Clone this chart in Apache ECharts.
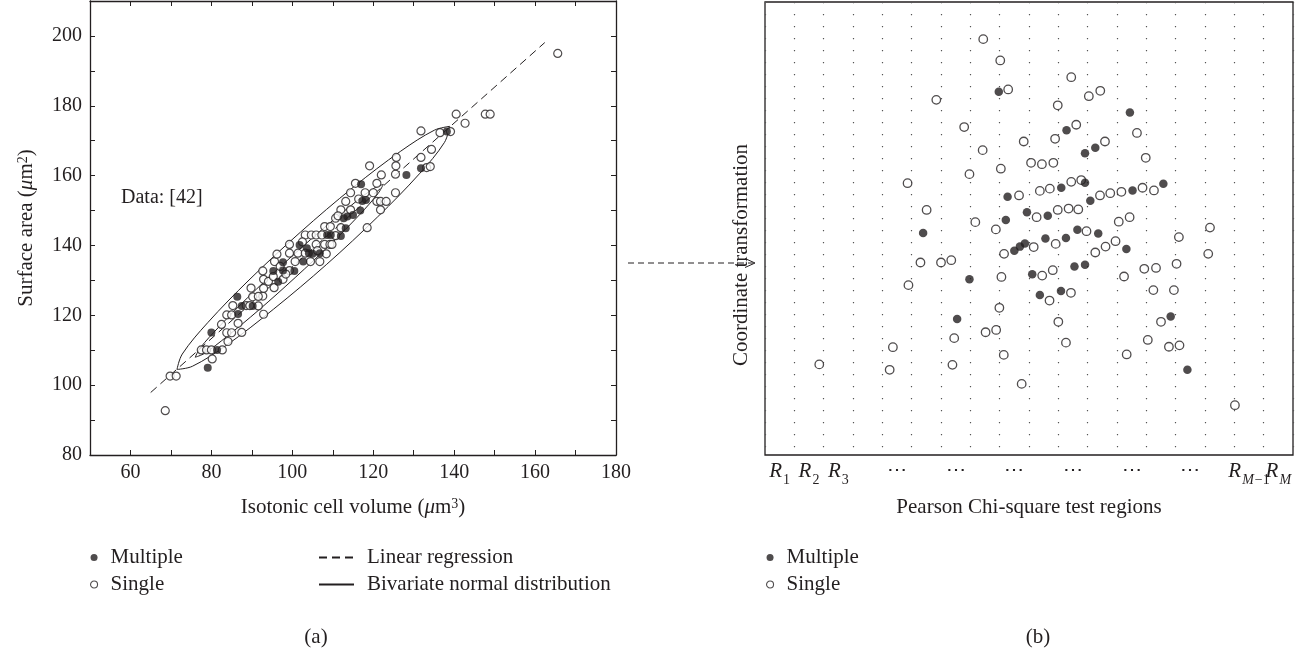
<!DOCTYPE html>
<html>
<head>
<meta charset="utf-8">
<title>Surface area vs isotonic cell volume</title>
<script src="https://cdn.jsdelivr.net/npm/echarts@6/dist/echarts.min.js"></script>
<style>
  html, body { margin: 0; padding: 0; background: #fff; }
  #chart { width: 1314px; height: 653px; }
</style>
</head>
<body>
<div id="chart"></div>
<script>
// 图表初始化
var myChart = echarts.init(document.getElementById('chart'));

var FONT = '"Liberation Serif", "DejaVu Serif", serif';
var INK = '#231f20';

// (a) 左图：刻度
var xTickLabels = [60, 80, 100, 120, 140, 160, 180];
var yTickLabels = [80, 100, 120, 140, 160, 180, 200];

// 线性回归的两个端点
var regressionX = [65, 162.4];
var regressionY = [97.9, 198.1];

// 二元正态分布的轮廓
var outerEllipse = [[138.9, 174.1], [137.6, 169.5], [131.4, 160.5], [121.1, 148.2], [108.5, 134.6],
    [95.3, 121.7], [83.7, 111.4], [75.3, 105.4], [71.5, 104.5], [72.8, 108.9], [79.1, 117.9],
    [89.3, 130.1], [102.0, 143.8], [115.1, 156.7], [126.8, 167.0], [135.1, 173.0]];
var innerEllipse = [[122.5, 157.5], [121.2, 154.9], [116.7, 148.9], [109.5, 140.4], [100.7, 130.8],
    [91.7, 121.5], [83.8, 113.9], [78.3, 109.1], [76.0, 108.0], [77.2, 110.6], [81.8, 116.6],
    [89.0, 125.1], [97.8, 134.7], [106.8, 144.0], [114.7, 151.6], [120.2, 156.4]];

// 单个细胞 (空心)
var singleA = [[68.6, 92.7], [69.8, 102.6], [71.3, 102.6],
    [77.5, 110.1], [78.8, 110.1], [80, 110.1], [80.2, 107.5], [82.7, 110.1],
    [82.5, 117.4], [83.8, 120.1], [85, 120.1], [83.8, 115], [85, 115], [84.1, 112.5], [86.6, 117.7], [87.5, 115.1],
    [85.3, 122.8], [88.6, 122.8], [89.5, 122.8], [90.2, 125.3], [91.6, 122.7], [92.9, 120.3], [92.7, 125.5],
    [92.9, 127.7], [92.9, 130.3], [92.7, 132.7], [91.6, 125.4], [94.1, 129.7], [95.3, 131.1],
    [95.5, 127.9], [95.6, 135.4], [97.7, 130.3], [99.3, 140.3], [99.3, 137.8], [99.3, 132.8], [100.7, 135.4], [101.4, 137.8],
    [103.2, 143], [103.2, 137.8], [104.7, 143], [105.9, 143], [104.5, 135.4], [105.9, 140.3], [106.8, 135.4], [107.3, 143],
    [108, 140.3], [109.3, 140.3], [108, 145.4], [108.4, 137.6], [109.4, 145.4], [109.8, 140.3], [110.7, 147.8], [110.7, 142.8],
    [112, 150.2], [112, 145.1], [114.4, 155.1], [114.4, 150.2], [115.6, 157.8], [118, 155.1], [118.5, 145.1], [119.1, 162.8],
    [120, 155.1], [120.9, 152.6], [120.9, 157.8], [121.8, 150.2], [121.8, 152.6], [122, 160.2], [123.2, 152.6],
    [125.5, 155.1], [125.5, 160.4], [125.6, 162.8], [125.7, 165.2],
    [131.8, 172.8], [131.8, 165.2], [133.2, 162.3], [134.1, 162.6], [134.4, 167.5], [136.5, 172.3], [139.1, 172.6],
    [140.5, 177.6], [142.7, 175], [147.7, 177.6], [148.9, 177.6], [165.6, 195],
    [97, 134], [102.5, 141], [106.2, 138.5], [111.3, 148.5], [113.2, 152.6], [116.4, 153.3], [96.2, 137.5],
    [89.8, 127.8], [98.4, 131.8]];

// 多个细胞 (实心)
var multipleA = [[79.1, 105], [80, 115.1], [81.4, 110.1], [86.4, 125.3], [86.6, 120.4], [87.5, 122.7], [90.2, 122.7],
    [95.3, 132.7], [96.5, 129.6], [97.7, 135.2], [97.7, 132.8], [100.5, 132.7], [101.8, 140.1], [102.7, 135.4],
    [103.6, 139.2], [104.1, 137.8], [105, 137.6], [106.8, 137.8], [108.6, 143], [109.5, 143], [112, 142.7],
    [112.7, 147.8], [113.6, 148.3], [113.2, 144.9], [115, 148.7], [116.8, 150], [117, 157.5], [117.3, 152.7],
    [118.2, 153], [128.2, 160.2], [131.8, 162.1], [138.2, 172.6]];

// (b) 右图：Pearson 卡方检验区域
var regions = ['R_1', 'R_2', 'R_3', '', '⋯', '', '⋯', '', '⋯', '', '⋯', '', '⋯', '', '⋯', '', 'R_M−1', 'R_M'];

var singleB = [[7.44, 91.8], [8.02, 87.1], [8.29, 80.7], [5.84, 78.4], [6.79, 72.4], [8.82, 69.2], [7.42, 67.3],
    [9.07, 64.5], [8.04, 63.2], [6.97, 62.0], [4.86, 60.0], [8.66, 57.3], [5.51, 54.1], [7.17, 51.4], [7.87, 49.8],
    [10.44, 83.4], [9.98, 77.2], [11.04, 79.2], [11.43, 80.4], [10.61, 72.9], [9.89, 69.8], [11.59, 69.2],
    [12.68, 71.1], [12.98, 65.6], [9.44, 64.2], [9.83, 64.5], [10.44, 60.3], [10.78, 60.7], [9.37, 58.3],
    [9.71, 58.8], [11.42, 57.3], [11.77, 57.8], [12.15, 58.1], [12.87, 59.0], [13.26, 58.4], [9.26, 52.5],
    [9.98, 54.1], [10.35, 54.4], [10.68, 54.2], [12.06, 51.5], [12.43, 52.5], [10.96, 49.4], [14.11, 48.1],
    [15.17, 50.2], [9.91, 46.6], [11.61, 46.0], [11.95, 47.2], [9.16, 45.9], [8.15, 44.4], [11.26, 44.7],
    [15.11, 44.4], [8.06, 39.3], [9.45, 39.6], [9.81, 40.8], [12.24, 39.4], [12.93, 41.1], [13.33, 41.3],
    [14.03, 42.2], [9.70, 34.1], [10.43, 35.8], [13.24, 36.4], [13.94, 36.4], [7.99, 32.5], [10.0, 29.4],
    [13.50, 29.4], [13.05, 25.4], [10.26, 24.8], [8.14, 22.1], [12.33, 22.2], [13.77, 23.9], [14.13, 24.2],
    [8.75, 15.7], [16.02, 11.0], [5.30, 42.5], [6.0, 42.5], [6.35, 43.0], [4.89, 37.5], [7.52, 27.1],
    [7.88, 27.6], [6.45, 25.8], [4.36, 23.8], [1.85, 20.0], [4.25, 18.8], [6.39, 19.9]];

var multipleB = [[7.97, 80.2], [8.27, 57.0], [8.93, 53.6], [8.21, 51.9], [5.39, 49.0], [12.44, 75.6], [10.28, 71.7],
    [10.91, 66.6], [11.26, 67.8], [10.91, 60.1], [10.10, 59.0], [12.53, 58.4], [13.58, 59.9], [9.64, 52.8],
    [11.09, 56.1], [10.65, 49.7], [11.36, 48.9], [9.56, 47.8], [10.26, 47.9], [8.86, 46.7], [8.69, 46.0],
    [8.50, 45.1], [12.32, 45.5], [9.11, 39.9], [10.55, 41.6], [10.91, 42.0], [9.37, 35.3], [10.09, 36.2],
    [13.83, 30.6], [14.40, 18.8], [6.97, 38.8], [6.55, 30.0]];

var textStyle = { fontSize: 21, fontFamily: FONT, color: INK };

function boxAxis(min, max, position, showLabel, labels) {
    return {
        type: 'value',
        min: min,
        max: max,
        interval: 10,
        position: position,
        axisLine: { onZero: false, lineStyle: { color: INK, width: 1.3 } },
        axisTick: { inside: true, length: 5, lineStyle: { color: INK, width: 1 } },
        axisLabel: {
            show: showLabel,
            margin: 8,
            fontSize: 20,
            fontFamily: FONT,
            color: INK,
            formatter: function (v) {
                return labels.indexOf(v) >= 0 ? String(v) : '';
            }
        },
        splitLine: { show: false }
    };
}

var nameRich = {
    i: { fontFamily: FONT, fontSize: 21, fontStyle: 'italic', color: INK, lineHeight: 24, verticalAlign: 'top' },
    n: { fontFamily: FONT, fontSize: 21, color: INK, lineHeight: 24, verticalAlign: 'top' },
    sup: { fontFamily: FONT, fontSize: 14, color: INK, lineHeight: 14, verticalAlign: 'top' }
};

var xBottom = boxAxis(50, 180, 'bottom', true, xTickLabels);
xBottom.gridIndex = 0;
xBottom.name = '{n|Isotonic cell volume (}{i|μ}{n|m}{sup|3}{n|)}';
xBottom.nameLocation = 'middle';
xBottom.nameGap = 42;
xBottom.nameTextStyle = { rich: nameRich };

var xTop = boxAxis(50, 180, 'top', false, xTickLabels);
xTop.gridIndex = 0;

var yLeft = boxAxis(80, 210, 'left', true, yTickLabels);
yLeft.gridIndex = 0;
yLeft.name = '{n|Surface area (}{i|μ}{n|m}{sup|2}{n|)}';
yLeft.nameLocation = 'middle';
yLeft.nameGap = 50;
yLeft.nameRotate = 90;
yLeft.nameTextStyle = { rich: nameRich };

var yRight = boxAxis(80, 210, 'right', false, yTickLabels);
yRight.gridIndex = 0;

var dotLegendText = { fontSize: 21, fontFamily: FONT, color: INK, lineHeight: 21, padding: [0, 0, 0, 8] };

var option = {
    backgroundColor: '#fff',
    animation: false,
    grid: [
        { left: 90, top: 1, width: 526, height: 454 },
        { left: 765, top: 2, width: 528, height: 453, show: true, borderColor: INK, borderWidth: 1.3 }
    ],
    xAxis: [
        xBottom,
        xTop,
        {
            gridIndex: 1,
            type: 'category',
            data: regions,
            boundaryGap: true,
            axisLine: { show: false },
            axisTick: { show: false },
            axisLabel: {
                interval: 0,
                margin: 6,
                color: INK,
                formatter: function (v) {
                    if (v === '⋯') return '{d|⋯}';
                    if (v.charAt(0) === 'R') {
                        var sub = v.slice(2);
                        if (sub.charAt(0) === 'M') {
                            return '{r|R}{si|M}' + (sub.length > 1 ? '{s|' + sub.slice(1) + '}' : '');
                        }
                        return '{r|R}{s|' + sub + '}';
                    }
                    return '';
                },
                rich: {
                    r: { fontFamily: FONT, fontStyle: 'italic', fontSize: 21, lineHeight: 26, verticalAlign: 'top', color: INK },
                    s: { fontFamily: FONT, fontSize: 14, lineHeight: 14, padding: [12, 0, 0, 1], verticalAlign: 'top', color: INK },
                    si: { fontFamily: FONT, fontStyle: 'italic', fontSize: 14, lineHeight: 14, padding: [12, 0, 0, 1], verticalAlign: 'top', color: INK },
                    d: { fontFamily: FONT, fontSize: 20, lineHeight: 26, verticalAlign: 'top', color: INK }
                }
            },
            splitLine: {
                show: true,
                interval: 0,
                lineStyle: { color: '#555', width: 1.2, type: [1.2, 10.8] }
            },
            name: 'Pearson Chi-square test regions',
            nameLocation: 'middle',
            nameGap: 42,
            nameTextStyle: textStyle
        },
        { gridIndex: 1, type: 'value', min: 0, max: 18, show: false }
    ],
    yAxis: [
        yLeft,
        yRight,
        { gridIndex: 1, type: 'value', min: 0, max: 100, show: false }
    ],
    legend: [{
        data: ['Multiple', 'Single'],
        orient: 'vertical',
        left: 90,
        top: 547,
        padding: 0,
        itemWidth: 7,
        itemHeight: 7,
        itemGap: 6,
        icon: 'circle',
        selectedMode: false,
        itemStyle: { borderWidth: 1.1 },
        textStyle: dotLegendText
    }, {
        data: ['Linear regression', 'Bivariate normal distribution'],
        orient: 'vertical',
        left: 318,
        top: 547,
        padding: 0,
        itemWidth: 35,
        itemHeight: 10,
        itemGap: 6,
        selectedMode: false,
        // 只保留线条，隐藏图例中的圆点
        itemStyle: { color: 'rgba(0,0,0,0)', borderWidth: 0, borderColor: 'rgba(0,0,0,0)' },
        textStyle: dotLegendText
    }, {
        data: ['Multiple', 'Single'],
        orient: 'vertical',
        left: 766,
        top: 547,
        padding: 0,
        itemWidth: 7,
        itemHeight: 7,
        itemGap: 6,
        icon: 'circle',
        selectedMode: false,
        itemStyle: { borderWidth: 1.1 },
        textStyle: dotLegendText
    }],
    graphic: [
        { type: 'text', left: 121, top: 188, style: { text: 'Data: [42]', fontSize: 20, fontFamily: FONT, fill: INK } },
        { type: 'line', shape: { x1: 628, y1: 263, x2: 753, y2: 263 }, style: { stroke: INK, lineWidth: 1, lineDash: [6, 4] } },
        { type: 'polyline', shape: { points: [[745, 258.5], [755, 263], [745, 267.5]] }, style: { stroke: INK, fill: null, lineWidth: 1 } },
        {
            type: 'text', x: 741, y: 255, rotation: Math.PI / 2,
            style: { text: 'Coordinate transformation', fontSize: 21, fontFamily: FONT, fill: INK, align: 'center', verticalAlign: 'middle' }
        },
        { type: 'text', x: 316, y: 637, style: { text: '(a)', fontSize: 21, fontFamily: FONT, fill: INK, align: 'center', verticalAlign: 'middle' } },
        { type: 'text', x: 1038, y: 637, style: { text: '(b)', fontSize: 21, fontFamily: FONT, fill: INK, align: 'center', verticalAlign: 'middle' } }
    ],
    series: [{
        name: 'Linear regression',
        type: 'line',
        xAxisIndex: 0,
        yAxisIndex: 0,
        symbol: 'none',
        data: regressionX.map(function (x, i) { return [x, regressionY[i]]; }),
        itemStyle: { color: INK },
        lineStyle: { color: INK, width: 1, type: [8, 5] },
        z: 2
    }, {
        name: 'Bivariate normal distribution',
        type: 'line',
        xAxisIndex: 0,
        yAxisIndex: 0,
        symbol: 'none',
        smooth: 0.35,
        data: outerEllipse.concat([outerEllipse[0]]),
        itemStyle: { color: INK },
        lineStyle: { color: INK, width: 1 },
        z: 2
    }, {
        name: 'Bivariate normal distribution',
        type: 'line',
        xAxisIndex: 0,
        yAxisIndex: 0,
        symbol: 'none',
        smooth: 0.35,
        data: innerEllipse.concat([innerEllipse[0]]),
        itemStyle: { color: INK },
        lineStyle: { color: INK, width: 1 },
        z: 2
    }, {
        name: 'Single',
        type: 'scatter',
        xAxisIndex: 0,
        yAxisIndex: 0,
        symbolSize: 8,
        data: singleA,
        itemStyle: { color: '#fff', borderColor: INK, borderWidth: 1.2 },
        z: 3
    }, {
        name: 'Multiple',
        type: 'scatter',
        xAxisIndex: 0,
        yAxisIndex: 0,
        symbolSize: 8,
        data: multipleA,
        itemStyle: { color: INK },
        z: 4
    }, {
        name: 'Single',
        type: 'scatter',
        xAxisIndex: 3,
        yAxisIndex: 2,
        symbolSize: 8.5,
        data: singleB,
        itemStyle: { color: '#fff', borderColor: INK, borderWidth: 1.3 },
        z: 3
    }, {
        name: 'Multiple',
        type: 'scatter',
        xAxisIndex: 3,
        yAxisIndex: 2,
        symbolSize: 8.5,
        data: multipleB,
        itemStyle: { color: INK },
        z: 4
    }]
};

myChart.setOption(option);
</script>
</body>
</html>
